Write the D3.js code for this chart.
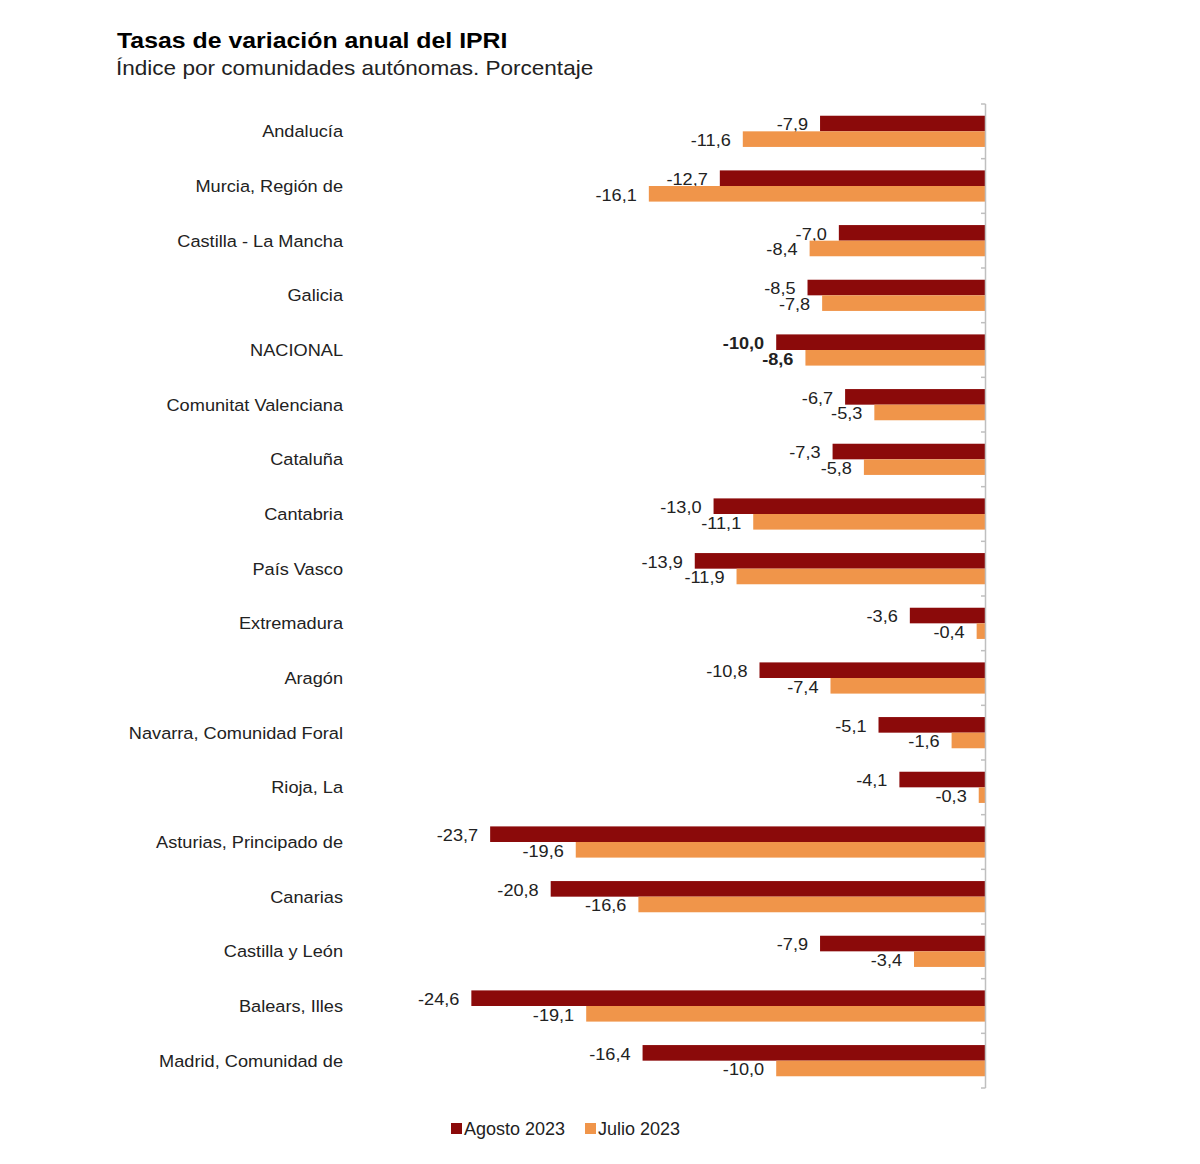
<!DOCTYPE html>
<html><head><meta charset="utf-8">
<script src="https://cdn.jsdelivr.net/npm/d3@7"></script>
<style>body{margin:0;background:#fff}</style>
</head><body>
<svg id="c" width="1200" height="1164"></svg>
<script>
const categories = ["Andalucía","Murcia, Región de","Castilla - La Mancha","Galicia","NACIONAL","Comunitat Valenciana","Cataluña","Cantabria","País Vasco","Extremadura","Aragón","Navarra, Comunidad Foral","Rioja, La","Asturias, Principado de","Canarias","Castilla y León","Balears, Illes","Madrid, Comunidad de"];
const agosto2023 = [-7.9,-12.7,-7.0,-8.5,-10.0,-6.7,-7.3,-13.0,-13.9,-3.6,-10.8,-5.1,-4.1,-23.7,-20.8,-7.9,-24.6,-16.4];
const julio2023 = [-11.6,-16.1,-8.4,-7.8,-8.6,-5.3,-5.8,-11.1,-11.9,-0.4,-7.4,-1.6,-0.3,-19.6,-16.6,-3.4,-19.1,-10.0];
const seriesNames = ["Agosto 2023","Julio 2023"];
const colors = ["#8B0A0A","#F0954A"];
const boldCategory = "NACIONAL";

const svg = d3.select("#c");
const font = "'Liberation Sans', Arial, sans-serif";

svg.append("text").attr("transform","translate(117,48) scale(1.13,1)").attr("font-family",font).attr("font-weight","bold")
  .attr("font-size",22).attr("fill","#000").text("Tasas de variación anual del IPRI");
svg.append("text").attr("transform","translate(116,75) scale(1.1,1)").attr("font-family",font)
  .attr("font-size",20.5).attr("fill","#222").text("Índice por comunidades autónomas. Porcentaje");

const x = d3.scaleLinear().domain([-25,0]).range([463,985]);
const y = d3.scaleBand().domain(categories).range([104,1088]);
const bw = y.bandwidth();
const bh = 15.6;
const off = (bw - 2*bh)/2;

const series = [agosto2023, julio2023];
series.forEach((vals, si) => {
  const g = svg.append("g");
  g.selectAll("rect").data(categories).join("rect")
    .attr("x", (c,i) => x(Math.min(0, vals[i])))
    .attr("width", (c,i) => Math.abs(x(vals[i]) - x(0)))
    .attr("y", c => y(c) + off + si*bh)
    .attr("height", bh)
    .attr("fill", colors[si]);
  g.selectAll("text").data(categories).join("text")
    .attr("transform", (c,i) => `translate(${x(vals[i]) - 12},${y(c) + off + si*bh + bh/2 + 1}) scale(1.1,1)`)
    .attr("dy","0.35em")
    .attr("text-anchor","end")
    .attr("font-family",font).attr("font-size",16.5)
    .attr("font-weight", c => c === boldCategory ? "bold" : "normal")
    .attr("fill","#222")
    .text((c,i) => d3.format(".1f")(vals[i]).replace(".",",").replace("−","-"));
});

// axis line with ticks at band boundaries
const ax = svg.append("g");
ax.append("line").attr("x1",985.5).attr("x2",985.5).attr("y1",104).attr("y2",1088)
  .attr("stroke","#bfbfbf").attr("stroke-width",1.5);
const bounds = categories.map(c => y(c)).concat([1088]);
ax.selectAll("line.t").data(bounds).join("line").attr("class","t")
  .attr("x1",981).attr("x2",985.5).attr("y1",d=>d).attr("y2",d=>d)
  .attr("stroke","#bfbfbf").attr("stroke-width",1.5);

// category labels
svg.append("g").selectAll("text").data(categories).join("text")
  .attr("transform", c => `translate(343,${y(c) + bw/2}) scale(1.07,1)`).attr("dy","0.35em")
  .attr("text-anchor","end").attr("font-family",font)
  .attr("font-size",17).attr("fill","#222").text(c => c);

// legend
const lx = [451, 585];
seriesNames.forEach((n,i) => {
  svg.append("rect").attr("x",lx[i]).attr("y",1123).attr("width",11).attr("height",11).attr("fill",colors[i]);
  svg.append("text").attr("x",lx[i]+13).attr("y",1129).attr("dy","0.35em")
    .attr("font-family",font).attr("font-size",18).attr("fill","#222").text(n);
});
</script>
</body></html>
